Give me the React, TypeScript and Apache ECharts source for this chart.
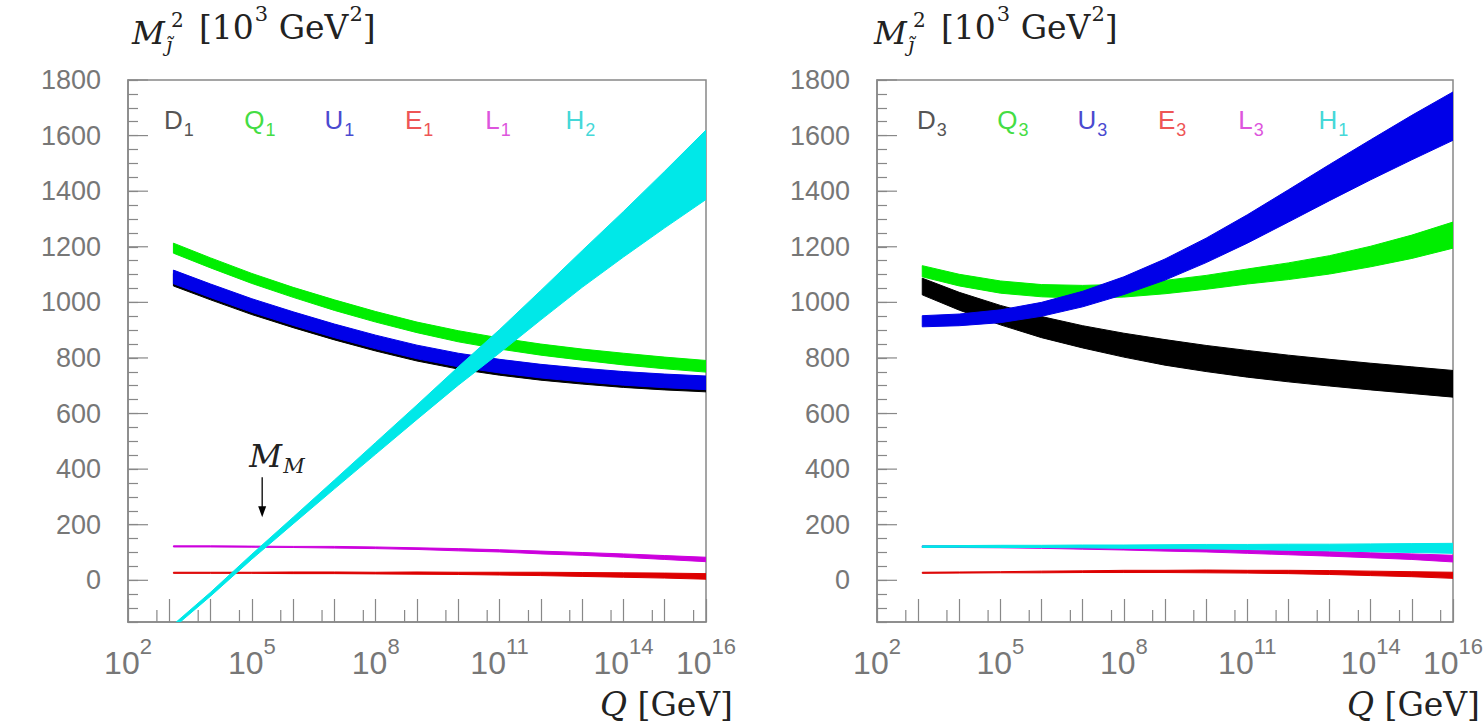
import React, { useEffect, useRef } from 'react';
import * as echarts from 'echarts';

// ---------------- data (log10 Q [GeV] and mass-squared bands in 10^3 GeV^2) ----------------
const LOG_Q = [3.1, 4, 5, 6, 7, 8, 9, 10, 11, 12, 13, 14, 15, 16];

// left panel (first generation + H2)
const Q1_LO = [1177, 1124, 1068, 1018, 971, 929, 891, 858, 832, 810, 792, 775, 761, 749];
const Q1_HI = [1213, 1160, 1104, 1054, 1009, 967, 929, 898, 872, 850, 832, 817, 803, 791];
const D1_LO = [1059, 1009, 956, 909, 865, 825, 789, 760, 738, 720, 706, 694, 685, 678];
const D1_HI = [1104, 1054, 1001, 954, 910, 870, 834, 805, 783, 765, 751, 739, 730, 723];
const U1_LO = [1067, 1017, 964, 917, 873, 833, 797, 768, 746, 728, 714, 702, 693, 686];
const U1_HI = [1116, 1066, 1013, 966, 922, 882, 846, 817, 795, 777, 763, 751, 742, 735];
const E1_LO = [25, 25, 25, 24, 24, 23, 22, 21, 19, 17, 14, 11, 8, 4];
const E1_HI = [29, 29, 29, 30, 30, 29, 30, 29, 29, 29, 28, 27, 26, 24];
const L1_LO = [120, 120, 119, 118, 116, 114, 111, 106, 102, 95, 90, 83, 75, 67];
const L1_HI = [124, 124, 123, 122, 122, 120, 117, 114, 110, 105, 100, 95, 89, 83];
const H2_LO = [-171, -57, 76, 203, 329, 454, 579, 702, 818, 937, 1054, 1163, 1268, 1370];
const H2_HI = [-159, -43, 94, 227, 361, 496, 631, 768, 902, 1043, 1186, 1327, 1472, 1620];

// right panel (third generation + H1)
const Q3_LO = [1092, 1059, 1033, 1020, 1015, 1019, 1031, 1047, 1066, 1082, 1102, 1128, 1158, 1195];
const Q3_HI = [1132, 1101, 1077, 1064, 1061, 1065, 1079, 1097, 1120, 1142, 1168, 1202, 1242, 1289];
const D3_LO = [1027, 972, 919, 873, 836, 803, 774, 751, 731, 714, 699, 685, 672, 659];
const D3_HI = [1087, 1036, 989, 949, 916, 889, 866, 845, 827, 810, 795, 781, 768, 755];
const U3_LO = [912, 916, 927, 950, 984, 1028, 1080, 1143, 1213, 1289, 1366, 1441, 1513, 1583];
const U3_HI = [952, 958, 973, 1000, 1040, 1092, 1156, 1231, 1315, 1405, 1496, 1585, 1673, 1757];
const E3_LO = [25, 26, 27, 27, 28, 28, 28, 27, 26, 24, 21, 17, 13, 7];
const E3_HI = [29, 30, 31, 33, 34, 36, 36, 37, 36, 36, 35, 33, 31, 29];
const L3_LO = [118, 118, 117, 115, 112, 109, 105, 102, 97, 92, 87, 81, 75, 66];
const L3_HI = [124, 124, 123, 121, 120, 117, 115, 112, 109, 106, 103, 99, 95, 90];
const H1_LO = [118, 119, 118, 118, 117, 115, 114, 113, 111, 108, 106, 103, 100, 97];
const H1_HI = [124, 125, 126, 126, 127, 127, 128, 129, 129, 130, 130, 131, 132, 133];

// axes
const X_MIN = 2;
const X_MAX = 16;
const Y_MIN = -150;
const Y_MAX = 1800;
const X_LABELED = [2, 5, 8, 11, 14, 16];
const X_MINOR_TICKS = [2.7, 3.7, 4.7, 5.7, 6.7, 7.7, 8.7, 9.7, 10.7, 11.7, 12.7, 13.7, 14.7, 15.7];
const Y_MAJOR_TICKS = [0, 200, 400, 600, 800, 1000, 1200, 1400, 1600, 1800];

// legends
const LEGEND_LETTERS = ['D', 'Q', 'U', 'E', 'L', 'H'];
const LEFT_SUBS = ['1', '1', '1', '1', '1', '2'];
const RIGHT_SUBS = ['3', '3', '3', '3', '3', '1'];

// M_M annotation (log10 Q, arrow top, arrow tip)
const MM_LOGQ = 5.25;
const MM_ARROW_TOP = 371;
const MM_ARROW_TIP = 227;

// ---------------- styling ----------------
const BAND = { D: '#000000', Q: '#00ee00', U: '#0000e8', E: '#dd0000', L: '#cc00dd', H: '#00e8e8' };
const LEGEND_TEXT = ['#555555', '#44dd44', '#4a4ad0', '#ee5555', '#dd55dd', '#44d8d8'];
const AXIS_GRAY = '#888888';
const LABEL_GRAY = '#777777';
const TEXT_DARK = '#222222';
const SANS = '"Liberation Sans", Arial, sans-serif';
const SERIF = '"DejaVu Serif", serif';

function band(gridIndex: number, name: string, lo: number[], hi: number[], color: string, z: number) {
  return {
    type: 'custom',
    name,
    xAxisIndex: gridIndex,
    yAxisIndex: gridIndex,
    clip: true,
    silent: true,
    z,
    data: LOG_Q.map((q, i) => [q, lo[i], hi[i]]),
    encode: { x: 0, y: [1, 2] },
    renderItem: (params: any, api: any) => {
      if (params.dataIndex !== 0) return null;
      const upper = LOG_Q.map((q, i) => api.coord([q, hi[i]]));
      const lower = LOG_Q.map((q, i) => api.coord([q, lo[i]])).reverse();
      return {
        type: 'polygon',
        shape: { points: upper.concat(lower) },
        style: { fill: color, stroke: color, lineWidth: 1 },
      };
    },
  };
}

function minorXTicks(gridIndex: number) {
  return {
    type: 'custom',
    xAxisIndex: gridIndex,
    yAxisIndex: gridIndex,
    silent: true,
    z: 3,
    data: X_MINOR_TICKS.map((v) => [v, Y_MIN]),
    renderItem: (_p: any, api: any) => {
      const pt = api.coord([api.value(0), api.value(1)]);
      return {
        type: 'line',
        shape: { x1: pt[0], y1: pt[1], x2: pt[0], y2: pt[1] - 12 },
        style: { stroke: AXIS_GRAY, lineWidth: 1.2 },
      };
    },
  };
}

function majorYTicks(gridIndex: number) {
  return {
    type: 'custom',
    xAxisIndex: gridIndex,
    yAxisIndex: gridIndex,
    silent: true,
    z: 3,
    data: Y_MAJOR_TICKS.map((v) => [X_MIN, v]),
    renderItem: (_p: any, api: any) => {
      const pt = api.coord([api.value(0), api.value(1)]);
      return {
        type: 'line',
        shape: { x1: pt[0], y1: pt[1], x2: pt[0] + 20, y2: pt[1] },
        style: { stroke: AXIS_GRAY, lineWidth: 1.2 },
      };
    },
  };
}

function mmAnnotation() {
  return {
    type: 'custom',
    xAxisIndex: 0,
    yAxisIndex: 0,
    silent: true,
    z: 10,
    data: [[MM_LOGQ, MM_ARROW_TOP, MM_ARROW_TIP]],
    renderItem: (_p: any, api: any) => {
      const top = api.coord([api.value(0), api.value(1)]);
      const tip = api.coord([api.value(0), api.value(2)]);
      const x = top[0];
      return {
        type: 'group',
        children: [
          { type: 'line', shape: { x1: x, y1: top[1], x2: x, y2: tip[1] - 9 }, style: { stroke: '#000', lineWidth: 1.3 } },
          { type: 'polygon', shape: { points: [[x - 4, tip[1] - 11], [x + 4, tip[1] - 11], [x, tip[1]]] }, style: { fill: '#000' } },
          {
            type: 'text', x: x - 13, y: top[1] - 5,
            style: { text: 'M', font: 'italic 32px ' + SERIF, fill: TEXT_DARK, align: 'left', verticalAlign: 'bottom', textAlign: 'left', textVerticalAlign: 'bottom' },
          },
          {
            type: 'text', x: x + 21, y: top[1] - 1,
            style: { text: 'M', font: 'italic 21px ' + SERIF, fill: TEXT_DARK, align: 'left', verticalAlign: 'bottom', textAlign: 'left', textVerticalAlign: 'bottom' },
          },
        ],
      };
    },
  };
}

function titleElements(x0: number) {
  return [
    { type: 'text', x: x0, y: 33, style: { text: 'M', font: 'italic 32px ' + SERIF, fill: TEXT_DARK, verticalAlign: 'middle', textVerticalAlign: 'middle' } },
    { type: 'text', x: x0 + 39, y: 20, style: { text: '2', font: '20px ' + SERIF, fill: TEXT_DARK, verticalAlign: 'middle', textVerticalAlign: 'middle' } },
    { type: 'text', x: x0 + 34, y: 45, style: { text: 'j\u0303', font: 'italic 20px ' + SERIF, fill: TEXT_DARK, verticalAlign: 'middle', textVerticalAlign: 'middle' } },
    {
      type: 'text', x: x0 + 67, y: 5,
      style: {
        text: '{n|[10}{s|3}{n| GeV}{s|2}{n|]}',
        verticalAlign: 'top', textVerticalAlign: 'top',
        rich: {
          n: { fontFamily: SERIF, fontSize: 33, lineHeight: 33, padding: [12, 0, 0, 0], fill: TEXT_DARK, color: TEXT_DARK },
          s: { fontFamily: SERIF, fontSize: 21, lineHeight: 21, padding: [4, 0, 20, 1], fill: TEXT_DARK, color: TEXT_DARK },
        },
      },
    },
  ];
}

function legendElements(x0: number, subs: string[]) {
  return LEGEND_LETTERS.map((letter, i) => ({
    type: 'text',
    x: x0 + i * 80.3,
    y: 110,
    style: {
      text: `{m|${letter}}{s|${subs[i]}}`,
      verticalAlign: 'top', textVerticalAlign: 'top',
      rich: {
        m: { fontFamily: SANS, fontSize: 26, lineHeight: 26, padding: [0, 0, 6, 0], fill: LEGEND_TEXT[i], color: LEGEND_TEXT[i] },
        s: { fontFamily: SANS, fontSize: 18, lineHeight: 18, padding: [14, 0, 0, 1], fill: LEGEND_TEXT[i], color: LEGEND_TEXT[i] },
      },
    },
  }));
}

function xTitle(xRight: number) {
  return {
    type: 'text', x: xRight, y: 704,
    style: {
      text: '{i|Q}{n| [GeV]}',
      align: 'right', textAlign: 'right', verticalAlign: 'middle', textVerticalAlign: 'middle',
      rich: {
        i: { fontFamily: SERIF, fontStyle: 'italic', fontSize: 33, fill: TEXT_DARK, color: TEXT_DARK },
        n: { fontFamily: SERIF, fontSize: 33, fill: TEXT_DARK, color: TEXT_DARK },
      },
    },
  };
}

function makeXAxis(gridIndex: number) {
  return {
    type: 'value', gridIndex, min: X_MIN, max: X_MAX, interval: 1,
    axisLine: { show: true, onZero: false, lineStyle: { color: AXIS_GRAY, width: 1.5 } },
    axisTick: { show: true, inside: true, length: 23, lineStyle: { color: AXIS_GRAY, width: 1.2 } },
    splitLine: { show: false },
    axisLabel: {
      show: true, margin: 19,
      formatter: (v: number) => (X_LABELED.indexOf(Math.round(v)) >= 0 && Math.abs(v - Math.round(v)) < 1e-6 ? `{b|10}{s|${Math.round(v)}}` : ''),
      rich: {
        b: { fontFamily: SANS, fontSize: 32, lineHeight: 32, padding: [12, 0, 0, 0], color: LABEL_GRAY },
        s: { fontFamily: SANS, fontSize: 22, lineHeight: 22, padding: [0, 0, 22, 0], color: LABEL_GRAY },
      },
    },
  };
}

function makeYAxis(gridIndex: number) {
  return {
    type: 'value', gridIndex, min: Y_MIN, max: Y_MAX, interval: 50,
    axisLine: { show: true, onZero: false, lineStyle: { color: AXIS_GRAY, width: 1.5 } },
    axisTick: { show: true, inside: true, length: 10, lineStyle: { color: AXIS_GRAY, width: 1.2 } },
    splitLine: { show: false },
    axisLabel: {
      show: true, margin: 27, fontFamily: SANS, fontSize: 27, color: LABEL_GRAY,
      formatter: (v: number) => (v >= 0 && Math.round(v) % 200 === 0 ? String(Math.round(v)) : ''),
    },
  };
}

export default function App() {
  const ref = useRef<HTMLDivElement>(null);
  useEffect(() => {
    if (!ref.current) return;
    const chart = echarts.init(ref.current, null, { renderer: 'svg' });
    const gridBase = { show: true, borderColor: AXIS_GRAY, borderWidth: 1.5, backgroundColor: 'transparent', containLabel: false, outerBoundsMode: 'none' };
    chart.setOption({
      animation: false,
      backgroundColor: '#ffffff',
      grid: [
        { ...gridBase, left: 128, top: 80, width: 578, height: 542 },
        { ...gridBase, left: 877, top: 80, width: 576, height: 542 },
      ],
      xAxis: [makeXAxis(0), makeXAxis(1)],
      yAxis: [makeYAxis(0), makeYAxis(1)],
      series: [
        band(0, 'Q1', Q1_LO, Q1_HI, BAND.Q, 2),
        band(0, 'D1', D1_LO, D1_HI, BAND.D, 3),
        band(0, 'U1', U1_LO, U1_HI, BAND.U, 4),
        band(0, 'E1', E1_LO, E1_HI, BAND.E, 5),
        band(0, 'L1', L1_LO, L1_HI, BAND.L, 6),
        band(0, 'H2', H2_LO, H2_HI, BAND.H, 7),
        band(1, 'Q3', Q3_LO, Q3_HI, BAND.Q, 2),
        band(1, 'D3', D3_LO, D3_HI, BAND.D, 3),
        band(1, 'U3', U3_LO, U3_HI, BAND.U, 4),
        band(1, 'E3', E3_LO, E3_HI, BAND.E, 5),
        band(1, 'L3', L3_LO, L3_HI, BAND.L, 6),
        band(1, 'H1', H1_LO, H1_HI, BAND.H, 7),
        minorXTicks(0),
        minorXTicks(1),
        majorYTicks(0),
        majorYTicks(1),
        mmAnnotation(),
      ],
      graphic: {
        elements: [
          ...titleElements(132),
          ...titleElements(874),
          ...legendElements(164, LEFT_SUBS),
          ...legendElements(917, RIGHT_SUBS),
          xTitle(733),
          xTitle(1480),
        ],
      },
    });
    return () => chart.dispose();
  }, []);
  return <div ref={ref} style={{ position: 'absolute', left: 0, top: 0, width: 1483, height: 728 }} />;
}
